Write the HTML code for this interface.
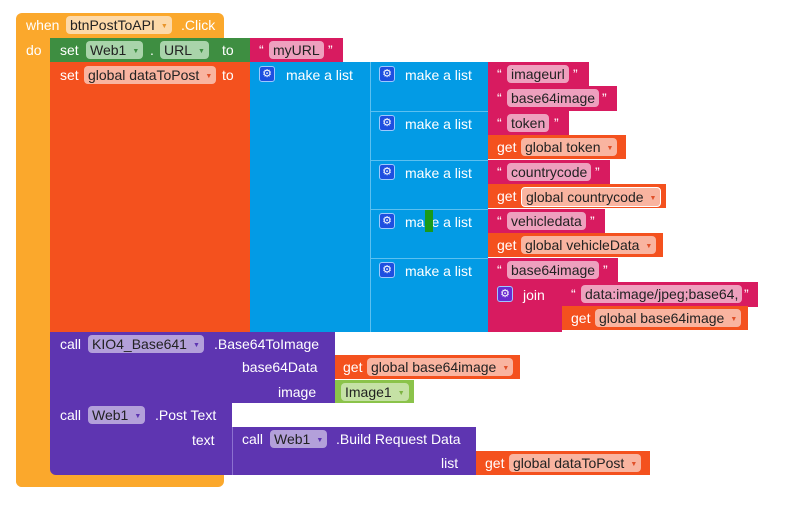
<!DOCTYPE html>
<html><head><meta charset="utf-8"><style>
body{margin:0;width:810px;height:506px;background:#fff;position:relative;overflow:hidden;font-family:"Liberation Sans",sans-serif;font-size:14px}
div{position:absolute;box-sizing:border-box}
.t{position:absolute;color:#fff;white-space:nowrap;line-height:16px}
.p{position:absolute;border-radius:4px;height:18px;line-height:18px;padding:0 4px;color:#222;white-space:nowrap}
.o{background:#F4511E}.pk{background:#D81B60}.bl{background:#039BE5}.pu{background:#5E35B1}.gr{background:#388E3C}
.po{background:#F9B4A0}.ppk{background:#EEA0BE}.ppu{background:#B3A0DA}.pgr{background:#A5D6A7}
.ar{font-size:7px;margin-left:6px;color:#E0502a;vertical-align:2px}
.gear{position:absolute;width:16px;height:16px;border-radius:3px;background:#1E4FE0;border:1px solid #9ec8ff;color:#fff;font-size:11px;line-height:14px;text-align:center}
</style></head><body>
<div style="left:16px;top:13px;width:208px;height:25px;background:#FBA82C;border-radius:6px 6px 0 0"></div>
<div style="left:16px;top:37px;width:35px;height:450px;background:#FBA82C;border-radius:0 0 0 6px"></div>
<div style="left:16px;top:472px;width:208px;height:15px;background:#FBA82C;border-radius:0 0 6px 6px"></div>
<span class="t" style="left:26px;top:17px">when</span>
<span class="p" style="left:66px;top:16px;background:#FDD9A8">btnPostToAPI<span class="ar" style="color:#e8952b">▼</span></span>
<span class="t" style="left:181px;top:17px">.Click</span>
<span class="t" style="left:26px;top:42px">do</span>

<div class="gr" style="left:50px;top:38px;width:200px;height:24px;background:#3E8E41"></div>
<span class="t" style="left:60px;top:42px">set</span>
<span class="p" style="left:86px;top:41px;background:#A9D4AA">Web1<span class="ar" style="color:#3e8e41">▼</span></span>
<span class="t" style="left:150px;top:42px">.</span>
<span class="p" style="left:160px;top:41px;background:#A9D4AA">URL<span class="ar" style="color:#3e8e41">▼</span></span>
<span class="t" style="left:222px;top:42px">to</span>
<div class="pk" style="left:250px;top:38px;width:93px;height:24px"></div>
<span class="t" style="left:259px;top:42px">“</span><span class="p ppk" style="left:269px;top:41px">myURL</span><span class="t" style="left:328px;top:42px">”</span>

<div class="o" style="left:50px;top:62px;width:200px;height:270px"></div>
<span class="t" style="left:60px;top:67px">set</span>
<span class="p po" style="left:84px;top:66px">global dataToPost<span class="ar">▼</span></span>
<span class="t" style="left:222px;top:67px">to</span>

<div class="bl" style="left:250px;top:62px;width:120px;height:270px"></div>
<div class="gear" style="left:259px;top:66px">⚙</div><span class="t" style="left:286px;top:67px">make a list</span>
<div class="bl" style="left:370px;top:62px;width:118px;height:270px;border-left:1px solid #5cc0f0"></div>
<div style="left:370px;top:111px;width:118px;height:1px;background:#5cc0f0"></div>
<div style="left:370px;top:160px;width:118px;height:1px;background:#5cc0f0"></div>
<div style="left:370px;top:209px;width:118px;height:1px;background:#5cc0f0"></div>
<div style="left:370px;top:258px;width:118px;height:1px;background:#5cc0f0"></div>
<div class="gear" style="left:379px;top:66px">⚙</div><span class="t" style="left:405px;top:67px">make a list</span>
<div class="gear" style="left:379px;top:115px">⚙</div><span class="t" style="left:405px;top:116px">make a list</span>
<div class="gear" style="left:379px;top:164px">⚙</div><span class="t" style="left:405px;top:165px">make a list</span>
<div class="gear" style="left:379px;top:213px">⚙</div><span class="t" style="left:405px;top:214px">make a list</span>
<div style="left:425px;top:210px;width:8px;height:22px;background:#1a9a1a"></div>
<div class="gear" style="left:379px;top:262px">⚙</div><span class="t" style="left:405px;top:263px">make a list</span>

<div class="pk" style="left:488px;top:62px;width:101px;height:25px"></div>
<span class="t" style="left:497px;top:66px">“</span><span class="p ppk" style="left:507px;top:65px">imageurl</span><span class="t" style="left:573px;top:66px">”</span>
<div class="pk" style="left:488px;top:86px;width:129px;height:25px"></div>
<span class="t" style="left:497px;top:90px">“</span><span class="p ppk" style="left:507px;top:89px">base64image</span><span class="t" style="left:602px;top:90px">”</span>
<div class="pk" style="left:488px;top:111px;width:81px;height:25px"></div>
<span class="t" style="left:497px;top:115px">“</span><span class="p ppk" style="left:507px;top:114px">token</span><span class="t" style="left:554px;top:115px">”</span>
<div class="o" style="left:488px;top:135px;width:138px;height:24px"></div>
<span class="t" style="left:497px;top:139px">get</span><span class="p po" style="left:521px;top:138px">global token<span class="ar">▼</span></span>
<div class="pk" style="left:488px;top:160px;width:122px;height:25px"></div>
<span class="t" style="left:497px;top:164px">“</span><span class="p ppk" style="left:507px;top:163px">countrycode</span><span class="t" style="left:595px;top:164px">”</span>
<div class="o" style="left:488px;top:184px;width:178px;height:24px"></div>
<span class="t" style="left:497px;top:188px">get</span><span class="p po" style="left:521px;top:187px;border:1px solid #fff">global countrycode<span class="ar">▼</span></span>
<div class="pk" style="left:488px;top:209px;width:117px;height:25px"></div>
<span class="t" style="left:497px;top:213px">“</span><span class="p ppk" style="left:507px;top:212px">vehicledata</span><span class="t" style="left:590px;top:213px">”</span>
<div class="o" style="left:488px;top:233px;width:175px;height:24px"></div>
<span class="t" style="left:497px;top:237px">get</span><span class="p po" style="left:521px;top:236px">global vehicleData<span class="ar">▼</span></span>
<div class="pk" style="left:488px;top:258px;width:130px;height:25px"></div>
<span class="t" style="left:497px;top:262px">“</span><span class="p ppk" style="left:507px;top:261px">base64image</span><span class="t" style="left:603px;top:262px">”</span>
<div class="pk" style="left:488px;top:282px;width:74px;height:50px"></div>
<div class="gear" style="left:497px;top:286px;background:#6a2bd0">⚙</div><span class="t" style="left:523px;top:287px">join</span>
<div class="pk" style="left:562px;top:282px;width:196px;height:25px"></div>
<span class="t" style="left:571px;top:286px">“</span><span class="p ppk" style="left:581px;top:285px">data:image/jpeg;base64,</span><span class="t" style="left:744px;top:286px">”</span>
<div class="o" style="left:562px;top:306px;width:186px;height:24px"></div>
<span class="t" style="left:571px;top:310px">get</span><span class="p po" style="left:595px;top:309px">global base64image<span class="ar">▼</span></span>

<div class="pu" style="left:50px;top:332px;width:285px;height:71px"></div>
<span class="t" style="left:60px;top:336px">call</span><span class="p ppu" style="left:88px;top:335px">KIO4_Base641<span class="ar" style="color:#5e35b1">▼</span></span>
<span class="t" style="left:214px;top:336px">.Base64ToImage</span>
<span class="t" style="left:242px;top:359px">base64Data</span>
<span class="t" style="left:278px;top:384px">image</span>
<div class="o" style="left:335px;top:355px;width:185px;height:24px"></div>
<span class="t" style="left:343px;top:359px">get</span><span class="p po" style="left:367px;top:358px">global base64image<span class="ar">▼</span></span>
<div style="left:335px;top:380px;width:79px;height:23px;background:#8BC34A"></div>
<span class="p" style="left:341px;top:383px;background:#C5E1A5">Image1<span class="ar" style="color:#7cb342">▼</span></span>

<div class="pu" style="left:50px;top:403px;width:182px;height:72px;border-radius:0 0 0 6px"></div>
<span class="t" style="left:60px;top:407px">call</span><span class="p ppu" style="left:88px;top:406px">Web1<span class="ar" style="color:#5e35b1">▼</span></span>
<span class="t" style="left:155px;top:407px">.Post Text</span>
<span class="t" style="left:192px;top:432px">text</span>
<div class="pu" style="left:232px;top:427px;width:244px;height:48px;border-left:1px solid #8c70d0"></div>
<span class="t" style="left:242px;top:431px">call</span><span class="p ppu" style="left:270px;top:430px">Web1<span class="ar" style="color:#5e35b1">▼</span></span>
<span class="t" style="left:336px;top:431px">.Build Request Data</span>
<span class="t" style="left:441px;top:455px">list</span>
<div class="o" style="left:476px;top:451px;width:174px;height:24px"></div>
<span class="t" style="left:485px;top:455px">get</span><span class="p po" style="left:509px;top:454px">global dataToPost<span class="ar">▼</span></span>
</body></html>
